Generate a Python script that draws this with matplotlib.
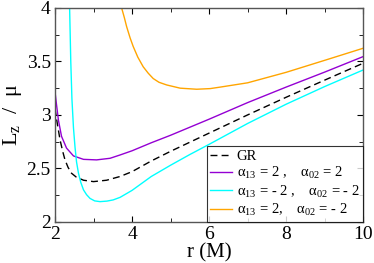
import numpy as np
import matplotlib
matplotlib.use("Agg")
import matplotlib.pyplot as plt
from matplotlib.ticker import MultipleLocator

plt.rcParams['font.family'] = ['Liberation Serif', 'DejaVu Serif']
plt.rcParams['mathtext.fontset'] = 'custom'
plt.rcParams['mathtext.rm'] = 'Liberation Serif'

# values
r_gr = [2.0, 2.06, 2.13, 2.2, 2.26, 2.34, 2.43, 2.55, 2.74, 3.0, 3.34, 3.69, 4.0, 4.5, 5.0, 5.5, 6.0, 7.0, 8.0, 9.0, 10.0]
L_gr = [3.06, 2.92, 2.77, 2.66, 2.58, 2.51, 2.455, 2.42, 2.39, 2.377, 2.39, 2.425, 2.47, 2.57, 2.66, 2.745, 2.83, 3.00, 3.165, 3.325, 3.483]

r_pp = [2.0, 2.03, 2.09, 2.17, 2.3, 2.48, 2.74, 3.08, 3.43, 3.69, 4.0, 4.5, 5.0, 5.5, 6.0, 7.0, 8.0, 9.0, 10.0]
L_pp = [3.22, 3.125, 2.95, 2.80, 2.69, 2.617, 2.585, 2.58, 2.595, 2.626, 2.665, 2.74, 2.81, 2.885, 2.96, 3.115, 3.26, 3.40, 3.545]

r_mm = [2.38, 2.41, 2.44, 2.48, 2.52, 2.56, 2.61, 2.67, 2.74, 2.82, 2.91, 3.03, 3.17, 3.35, 3.51, 3.69, 4.0, 4.25, 4.5, 5.0, 5.5, 6.0, 7.0, 8.0, 9.0, 10.0]
L_mm = [4.0, 3.5, 3.15, 2.88, 2.70, 2.56, 2.455, 2.37, 2.30, 2.255, 2.22, 2.197, 2.19, 2.195, 2.206, 2.23, 2.295, 2.36, 2.425, 2.53, 2.63, 2.725, 2.92, 3.10, 3.265, 3.42]

r_pm = [3.73, 3.8, 3.86, 3.95, 4.03, 4.15, 4.29, 4.42, 4.55, 4.7, 4.9, 5.25, 5.68, 6.03, 6.29, 7.0, 8.0, 9.0, 10.0]
L_pm = [4.0, 3.91, 3.825, 3.72, 3.64, 3.54, 3.45, 3.39, 3.34, 3.305, 3.28, 3.25, 3.24, 3.246, 3.26, 3.30, 3.398, 3.51, 3.623]

labels = ["GR",
          r"α$_\mathregular{13}$ = 2 ,    α$_\mathregular{02}$ = 2",
          r"α$_\mathregular{13}$ = - 2 ,    α$_\mathregular{02}$ = - 2",
          r"α$_\mathregular{13}$ = 2,    α$_\mathregular{02}$ = - 2"]

fig = plt.figure(figsize=(3.74, 2.63), dpi=100)
ax = fig.add_axes([0.147, 0.156, 0.824, 0.814])

ax.plot(r_gr, L_gr, color="black", lw=1.0, ls=(0, (5, 3)), label=labels[0])
ax.plot(r_pp, L_pp, color="#9400D3", lw=1.0, label=labels[1])
ax.plot(r_mm, L_mm, color="#00FFFF", lw=1.0, label=labels[2])
ax.plot(r_pm, L_pm, color="#FFA500", lw=1.0, label=labels[3])

ax.set_xlim(2, 10)
ax.set_ylim(2, 4)
ax.xaxis.set_minor_locator(MultipleLocator(1))
ax.yaxis.set_minor_locator(MultipleLocator(0.25))
ax.set_xticks([2, 4, 6, 8, 10])
ax.set_xticklabels(["2", "4", "6", "8", "10"])
ax.set_yticks([2, 2.5, 3, 3.5, 4])
ax.set_yticklabels(["2", "2.5", "3", "3.5", "4"])
ax.tick_params(which="both", direction="in", top=True, right=True, labelsize=14, pad=3)
ax.tick_params(which="major", length=4)
ax.tick_params(which="minor", length=3)
for s in ax.spines.values():
    s.set_linewidth(1.0)
    s.set_color("#555555")

ax.set_xlabel("r (M)", fontsize=15, labelpad=0)
ax.set_ylabel(r"L$_\mathregular{z}$  /  μ", fontsize=16, labelpad=2)

leg = ax.legend(loc="lower right", fontsize=10.5, frameon=True, fancybox=False,
                borderaxespad=0, handlelength=1.5, handletextpad=0.3,
                labelspacing=0.12, borderpad=0.25)
leg.get_frame().set_edgecolor("black")
leg.get_frame().set_linewidth(0.8)

fig.savefig("out.png", dpi=100)
plt.close(fig)
